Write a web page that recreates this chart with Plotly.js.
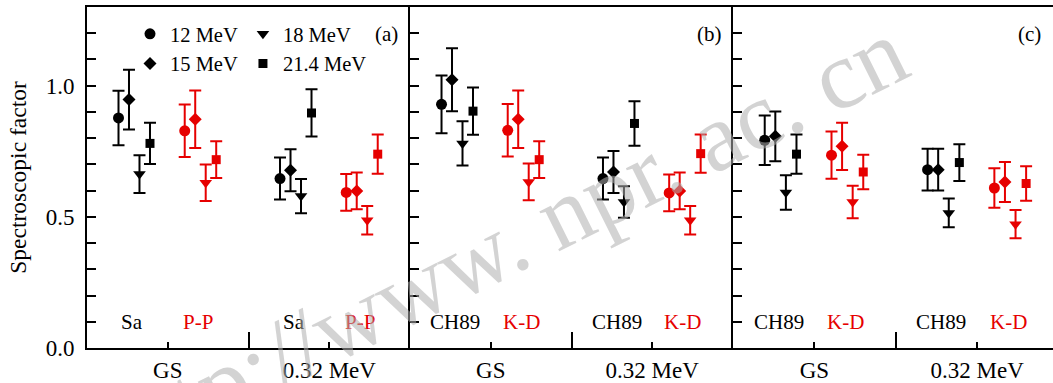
<!DOCTYPE html>
<html>
<head>
<meta charset="utf-8">
<script src="https://cdn.plot.ly/plotly-3.0.1.min.js"></script>
<style>
  html, body { margin: 0; padding: 0; background: #fff; }
  #chart { width: 1053px; height: 383px; }
</style>
</head>
<body>
<div id="chart"></div>
<script>
// Beam energies (one marker shape each)
const energies = ['12 MeV', '15 MeV', '18 MeV', '21.4 MeV'];
// States on the x axis
const states = ['GS', '0.32 MeV'];
// Potential labels per panel: [black set, red set]
const potentialsA = ['Sa', 'P-P'];
const potentialsB = ['CH89', 'K-D'];
const potentialsC = ['CH89', 'K-D'];
const panelTags = ['(a)', '(b)', '(c)'];

// Spectroscopic factors, indexed by energy; "Gs" = ground state, "Ex" = 0.32 MeV state
// Panel (a)
const aSaGs  = [0.877, 0.947, 0.663, 0.780];
const aSaGsErr = [0.104, 0.114, 0.072, 0.079];
const aSaEx  = [0.646, 0.678, 0.579, 0.896];
const aSaExErr = [0.080, 0.080, 0.065, 0.090];
const aPPGs  = [0.828, 0.872, 0.630, 0.718];
const aPPGsErr = [0.100, 0.110, 0.070, 0.070];
const aPPEx  = [0.593, 0.599, 0.487, 0.739];
const aPPExErr = [0.070, 0.070, 0.054, 0.075];
// Panel (b)
const bCHGs  = [0.929, 1.023, 0.780, 0.903];
const bCHGsErr = [0.110, 0.120, 0.084, 0.090];
const bCHEx  = [0.646, 0.671, 0.557, 0.856];
const bCHExErr = [0.080, 0.080, 0.060, 0.085];
const bKDGs  = [0.830, 0.872, 0.633, 0.718];
const bKDGsErr = [0.100, 0.110, 0.070, 0.070];
const bKDEx  = [0.591, 0.599, 0.487, 0.741];
const bKDExErr = [0.070, 0.070, 0.054, 0.073];
// Panel (c)
const cCHGs  = [0.792, 0.807, 0.593, 0.739];
const cCHGsErr = [0.094, 0.095, 0.066, 0.075];
const cCHEx  = [0.680, 0.680, 0.515, 0.707];
const cCHExErr = [0.080, 0.080, 0.055, 0.070];
const cKDGs  = [0.735, 0.769, 0.557, 0.671];
const cKDGsErr = [0.090, 0.090, 0.062, 0.066];
const cKDEx  = [0.610, 0.633, 0.472, 0.627];
const cKDExErr = [0.075, 0.076, 0.054, 0.066];

// ---- styling / placement ----
const SERIF = 'Liberation Serif';
const BLACK = '#000000';
const RED = '#e60000';
const symbols = ['circle', 'diamond', 'triangle-down', 'square'];
const sizes = [11, 10, 11, 9];
const stateX = [1, 3];                       // category centres on each panel axis
const offBlack = [-0.61, -0.48, -0.35, -0.22];
const offRed = [0.21, 0.34, 0.47, 0.60];
const labelOff = [-0.44, 0.38];

const panels = [
  { xa: 'x',  ya: 'y',  pots: potentialsA,
    sets: [[aSaGs, aSaGsErr, aSaEx, aSaExErr], [aPPGs, aPPGsErr, aPPEx, aPPExErr]] },
  { xa: 'x2', ya: 'y2', pots: potentialsB,
    sets: [[bCHGs, bCHGsErr, bCHEx, bCHExErr], [bKDGs, bKDGsErr, bKDEx, bKDExErr]] },
  { xa: 'x3', ya: 'y3', pots: potentialsC,
    sets: [[cCHGs, cCHGsErr, cCHEx, cCHExErr], [cKDGs, cKDGsErr, cKDEx, cKDExErr]] }
];

const traces = [];
panels.forEach((p, pi) => {
  p.sets.forEach((set, si) => {
    const [gs, gsErr, ex, exErr] = set;
    const color = si === 0 ? BLACK : RED;
    const offs = si === 0 ? offBlack : offRed;
    energies.forEach((en, ei) => {
      traces.push({
        type: 'scatter', mode: 'markers',
        xaxis: p.xa, yaxis: p.ya,
        x: stateX.map(c => c + offs[ei]),
        y: [gs[ei], ex[ei]],
        error_y: { type: 'data', array: [gsErr[ei], exErr[ei]], visible: true,
                   color: color, thickness: 2, width: 6 },
        marker: { symbol: symbols[ei], size: sizes[ei], color: color },
        name: en,
        legendgroup: (ei === 0 || ei === 1) ? 'left' : 'right',
        showlegend: pi === 0 && si === 0,
        hoverinfo: 'skip'
      });
    });
  });
});

const annotations = [];
panels.forEach((p, pi) => {
  stateX.forEach(c => {
    p.pots.forEach((name, si) => {
      annotations.push({
        xref: p.xa, yref: p.ya, x: c + labelOff[si], y: 0.1,
        text: name, showarrow: false,
        font: { family: SERIF, size: 21, color: si === 0 ? BLACK : RED }
      });
    });
  });
  annotations.push({
    xref: p.xa, yref: p.ya, x: pi === 2 ? 3.64 : 3.71, y: 1.197,
    text: panelTags[pi], showarrow: false,
    font: { family: SERIF, size: 21, color: BLACK }
  });
});

// Site address stamped across the figure
annotations.push({
  xref: 'paper', yref: 'paper', x: (504 - 87) / 966, y: (348 - 242) / 341,
  xanchor: 'center', yanchor: 'middle',
  text: 'http://www. npr. ac. cn', textangle: -26.5, showarrow: false,
  font: { family: SERIF, size: 97, color: 'rgba(175,175,175,0.55)' }
});

function xAxis(domain, range, anchor) {
  return {
    domain: domain, range: range, anchor: anchor,
    showline: true, linewidth: 2, linecolor: BLACK, mirror: true,
    showgrid: false, zeroline: false,
    tickmode: 'array', tickvals: stateX, ticktext: states,
    ticks: 'inside', ticklen: 6, tickwidth: 2, tickcolor: BLACK,
    minor: { tickmode: 'array', tickvals: [2], ticks: 'inside', ticklen: 16, tickwidth: 2, tickcolor: BLACK },
    tickfont: { family: SERIF, size: 23, color: BLACK },
    ticklabelstandoff: 0,
    fixedrange: true
  };
}
function yAxis(anchor, labels) {
  return {
    anchor: anchor, range: [0, 1.3],
    showline: true, linewidth: 2, linecolor: BLACK, mirror: false,
    showgrid: false, zeroline: false,
    tickmode: 'array', tickvals: [0, 0.5, 1.0], tickformat: '.1f',
    ticks: 'inside', ticklen: 9, tickwidth: 2, tickcolor: BLACK,
    minor: { dtick: 0.1, tick0: 0, ticks: 'inside', ticklen: 9, tickwidth: 2, tickcolor: BLACK },
    showticklabels: labels,
    tickfont: { family: SERIF, size: 23, color: BLACK },
    ticklabelstandoff: 6,
    fixedrange: true
  };
}

const ya = yAxis('x', true);
ya.title = { text: 'Spectroscopic factor', font: { family: SERIF, size: 23.5, color: BLACK }, standoff: 12 };

const layout = {
  width: 1053, height: 383,
  margin: { l: 87, r: 0, t: 7, b: 35, pad: 0 },
  paper_bgcolor: '#ffffff', plot_bgcolor: '#ffffff',
  showlegend: true,
  legend: {
    orientation: 'h', traceorder: 'grouped',
    x: (130 - 87) / 966, y: (348 - 14) / 341, xanchor: 'left', yanchor: 'top',
    bgcolor: 'rgba(0,0,0,0)', borderwidth: 0,
    font: { family: SERIF, size: 20.5, color: BLACK },
    itemclick: false, itemdoubleclick: false
  },
  xaxis: xAxis([0, 0.3344], [0, 4], 'y'),
  xaxis2: xAxis([0.3344, 0.6687], [0, 4], 'y2'),
  xaxis3: xAxis([0.6687, 1], [0, 3.93], 'y3'),
  yaxis: ya, yaxis2: yAxis('x2', false), yaxis3: yAxis('x3', false),
  annotations: annotations
};

Plotly.newPlot('chart', traces, layout, { staticPlot: true, displayModeBar: false });
</script>
</body>
</html>
